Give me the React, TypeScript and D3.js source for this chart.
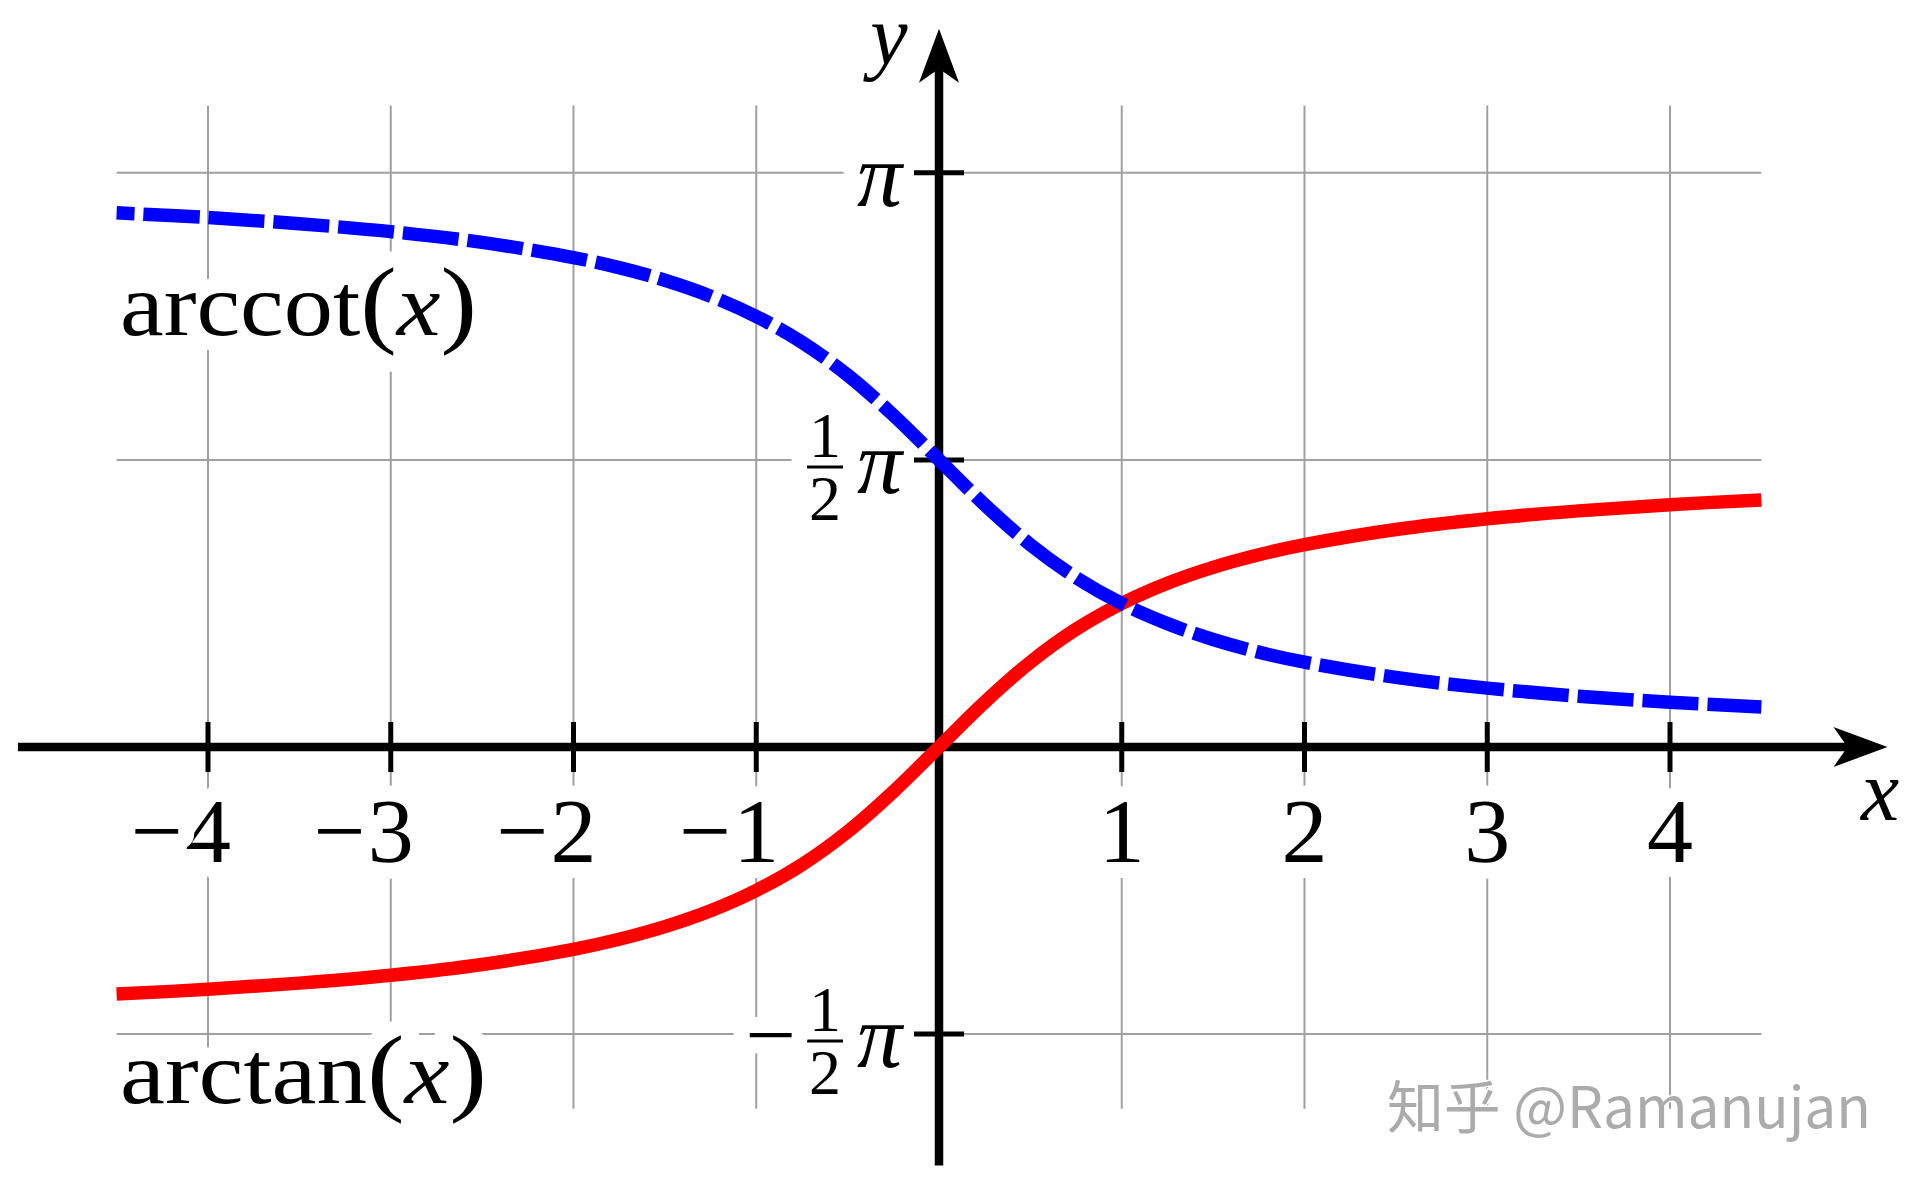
import * as d3 from 'd3'
import { useEffect, useRef } from 'react'

// values
const sampleX = [-4.5, -4, -3.5, -3, -2.5, -2, -1.75, -1.5, -1.25, -1, -0.75, -0.5, -0.25, 0, 0.25, 0.5, 0.75, 1, 1.25, 1.5, 1.75, 2, 2.5, 3, 3.5, 4, 4.5]
const arctanY = [-1.352, -1.326, -1.292, -1.249, -1.19, -1.107, -1.052, -0.983, -0.896, -0.785, -0.644, -0.464, -0.245, 0, 0.245, 0.464, 0.644, 0.785, 0.896, 0.983, 1.052, 1.107, 1.19, 1.249, 1.292, 1.326, 1.352]
const arccotY = [2.923, 2.897, 2.863, 2.82, 2.761, 2.678, 2.623, 2.554, 2.467, 2.356, 2.215, 2.035, 1.816, 1.571, 1.326, 1.107, 0.927, 0.785, 0.675, 0.588, 0.519, 0.464, 0.381, 0.322, 0.278, 0.245, 0.219]

const xTicks = [-4, -3, -2, -1, 1, 2, 3, 4]
const xGrid = [-4, -3, -2, -1, 0, 1, 2, 3, 4]
const yGridPi = [-0.5, 0, 0.5, 1] // multiples of pi
const yTicksPi = [-0.5, 0.5, 1]

const W = 1920
const H = 1189
const U = 182.75 // px per unit, same on both axes
const OX = 939
const OY = 747
const SERIF = '"Liberation Serif", "Times New Roman", serif'

export default function App() {
  const svgRef = useRef<SVGSVGElement | null>(null)

  useEffect(() => {
    if (!svgRef.current)
      return
    const svg = d3.select(svgRef.current)
    svg.selectAll('*').remove()

    const x = d3.scaleLinear().domain([0, 1]).range([OX, OX + U])
    const y = d3.scaleLinear().domain([0, 1]).range([OY, OY - U])

    const halo = (sel: any) => sel
      .attr('stroke', '#fff')
      .attr('stroke-width', 32)
      .attr('stroke-linejoin', 'round')
      .attr('paint-order', 'stroke')

    // grid
    const grid = svg.append('g').attr('stroke', '#a0a0a0').attr('stroke-width', 2)
    grid.selectAll('line.v').data(xGrid).enter().append('line')
      .attr('x1', d => x(d)).attr('x2', d => x(d))
      .attr('y1', y(3.51)).attr('y2', y(-1.98))
    grid.selectAll('line.h').data(yGridPi).enter().append('line')
      .attr('x1', x(-4.5)).attr('x2', x(4.5))
      .attr('y1', d => y(d * Math.PI)).attr('y2', d => y(d * Math.PI))

    // x tick labels (digit centred on tick, minus hanging left)
    const xl = svg.append('g').attr('font-family', SERIF).attr('font-size', 92).attr('fill', '#000')
    xTicks.forEach(t => {
      xl.append('text').attr('x', x(t)).attr('y', 862).attr('text-anchor', 'middle')
        .text(String(Math.abs(t))).call(halo)
      if (t < 0)
        xl.append('text').attr('x', x(t) - 25).attr('y', 862).attr('text-anchor', 'end')
          .text('\u2212').call(halo)
    })

    // y tick labels
    const yl = svg.append('g').attr('font-family', SERIF).attr('fill', '#000')
    yTicksPi.forEach(v => {
      const yy = y(v * Math.PI)
      yl.append('text').attr('x', 902).attr('y', yy + 33).attr('text-anchor', 'end')
        .attr('font-size', 90).attr('font-style', 'italic').text('π').call(halo)
      if (Math.abs(v) === 0.5) {
        yl.append('line').attr('x1', 807).attr('x2', 843).attr('y1', yy + 7).attr('y2', yy + 7)
          .attr('stroke', '#fff').attr('stroke-width', 34).attr('stroke-linecap', 'round')
        yl.append('text').attr('x', 825).attr('y', yy - 3).attr('text-anchor', 'middle')
          .attr('font-size', 64).text('1').call(halo)
        yl.append('text').attr('x', 825).attr('y', yy + 60).attr('text-anchor', 'middle')
          .attr('font-size', 64).text('2').call(halo)
        yl.append('line').attr('x1', 807).attr('x2', 843).attr('y1', yy + 7).attr('y2', yy + 7)
          .attr('stroke', '#000').attr('stroke-width', 3)
      }
      if (v < 0)
        yl.append('text').attr('x', 771).attr('y', yy + 31).attr('text-anchor', 'middle')
          .attr('font-size', 90).text('\u2212').call(halo)
    })

    // curve labels: white halo copy underneath, then the black text
    const lab = (txt: string, yy: number, len: number) => {
      [true, false].forEach(under => {
        const t = svg.append('text').attr('x', 120).attr('y', yy)
          .attr('font-family', SERIF).attr('font-size', 88)
          .attr('textLength', len).attr('lengthAdjust', 'spacingAndGlyphs')
        if (under)
          t.attr('fill', '#fff').attr('stroke', '#fff').attr('stroke-width', 32).attr('stroke-linejoin', 'round')
        else
          t.attr('fill', '#000')
        t.append('tspan').text(txt)
        t.append('tspan').attr('font-size', 98).text('(')
        t.append('tspan').attr('font-style', 'italic').text('x')
        t.append('tspan').attr('font-size', 98).text(')')
      })
    }
    lab('arccot', 335, 357)
    lab('arctan', 1103, 367)

    // axes
    const ax = svg.append('g')
    ax.append('line').attr('x1', x(-5.04)).attr('x2', x(5.1)).attr('y1', y(0)).attr('y2', y(0))
      .attr('stroke', '#000').attr('stroke-width', 8.5)
    ax.append('line').attr('x1', x(0)).attr('x2', x(0)).attr('y1', y(-2.29)).attr('y2', y(3.85))
      .attr('stroke', '#000').attr('stroke-width', 8.5)
    const tipX = x(5.19)
    const tipY = y(3.93)
    ax.append('path')
      .attr('d', `M${tipX},${OY} L${tipX - 54},${OY - 20} L${tipX - 40},${OY} L${tipX - 54},${OY + 20} Z`)
      .attr('fill', '#000')
    ax.append('path')
      .attr('d', `M${OX},${tipY} L${OX - 20},${tipY + 54} L${OX},${tipY + 40} L${OX + 20},${tipY + 54} Z`)
      .attr('fill', '#000')
    ax.selectAll('line.xt').data(xTicks).enter().append('line')
      .attr('x1', d => x(d)).attr('x2', d => x(d)).attr('y1', OY - 25).attr('y2', OY + 25)
      .attr('stroke', '#000').attr('stroke-width', 5)
    ax.selectAll('line.yt').data(yTicksPi).enter().append('line')
      .attr('x1', OX - 25).attr('x2', OX + 25)
      .attr('y1', d => y(d * Math.PI)).attr('y2', d => y(d * Math.PI))
      .attr('stroke', '#000').attr('stroke-width', 5)

    svg.append('text').attr('x', 1880).attr('y', 820).attr('text-anchor', 'middle')
      .attr('font-family', SERIF).attr('font-style', 'italic').attr('font-size', 86).text('x')
    svg.append('text').attr('x', 889).attr('y', 64).attr('text-anchor', 'middle')
      .attr('font-family', SERIF).attr('font-style', 'italic').attr('font-size', 84).text('y')

    // curves
    const line = d3.line<number>()
      .x((_, i) => x(sampleX[i]))
      .y(d => y(d))
      .curve(d3.curveCatmullRom.alpha(0.5))

    svg.append('path').datum(arctanY).attr('d', line)
      .attr('fill', 'none').attr('stroke', '#ff0000').attr('stroke-width', 13.5)
      .attr('stroke-linejoin', 'round')
    svg.append('path').datum(arccotY).attr('d', line)
      .attr('fill', 'none').attr('stroke', '#0000ff').attr('stroke-width', 13.5)
      .attr('stroke-dasharray', '56 9').attr('stroke-dashoffset', 38)

    // watermark
    svg.append('text').attr('x', 1387).attr('y', 1128)
      .attr('font-family', '"Noto Sans CJK SC", "Noto Sans", sans-serif').attr('font-size', 57)
      .attr('fill', '#ababab').attr('stroke', '#fff').attr('stroke-width', 3).attr('paint-order', 'stroke')
      .attr('textLength', 484).attr('lengthAdjust', 'spacingAndGlyphs')
      .text('知乎 @Ramanujan')
  }, [])

  return (
    <svg ref={svgRef} width={W} height={H}
      style={{ position: 'absolute', left: 0, top: 0, background: '#fff' }} />
  )
}
